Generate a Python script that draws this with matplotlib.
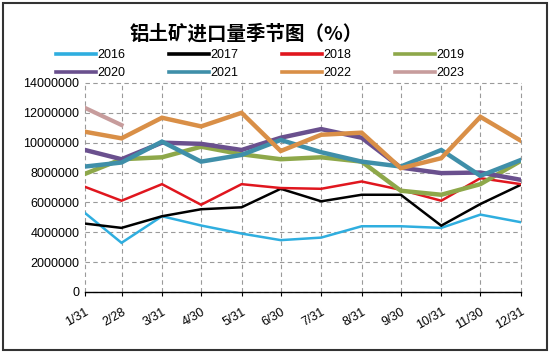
import matplotlib
matplotlib.use("Agg")
import matplotlib.pyplot as plt
from matplotlib.patches import Rectangle

plt.rcParams['font.family'] = ['Liberation Sans', 'Noto Sans CJK SC', 'DejaVu Sans']

dates = ["1/31", "2/28", "3/31", "4/30", "5/31", "6/30", "7/31", "8/31", "9/30", "10/31", "11/30", "12/31"]
day_of_year = [31, 59, 90, 120, 151, 181, 212, 243, 273, 304, 334, 365]

s2016 = [5290000, 3290000, 5070000, 4450000, 3910000, 3470000, 3640000, 4400000, 4400000, 4290000, 5180000, 4670000]
s2017 = [4580000, 4290000, 5070000, 5540000, 5670000, 6910000, 6070000, 6510000, 6510000, 4440000, 5890000, 7180000]
s2018 = [7040000, 6110000, 7220000, 5840000, 7220000, 6960000, 6910000, 7400000, 6840000, 6110000, 7620000, 7220000]
s2019 = [7910000, 8890000, 9020000, 9730000, 9220000, 8890000, 9020000, 8730000, 6780000, 6510000, 7220000, 8780000]
s2020 = [9510000, 8890000, 10000000, 9920000, 9510000, 10330000, 10910000, 10330000, 8330000, 7960000, 8000000, 7510000]
s2021 = [8400000, 8670000, 10070000, 8730000, 9180000, 10180000, 9360000, 8730000, 8400000, 9510000, 7780000, 8840000]
s2022 = [10730000, 10290000, 11670000, 11090000, 12000000, 9440000, 10530000, 10670000, 8290000, 8960000, 11730000, 10130000]
s2023 = [12330000, 11180000]

series = [
    ("2016", s2016, "#2FAEDF", 1.8),
    ("2017", s2017, "#000000", 1.8),
    ("2018", s2018, "#E0161E", 1.8),
    ("2019", s2019, "#8EA84A", 3.2),
    ("2020", s2020, "#6A508E", 3.2),
    ("2021", s2021, "#3F8FA9", 3.2),
    ("2022", s2022, "#D98F47", 3.2),
    ("2023", s2023, "#C79C9C", 3.0),
]

fig = plt.figure(figsize=(5.5, 3.53), dpi=100)
ax = fig.add_axes([0.1545, 0.173, 0.7925, 0.592])

handles = {}
for name, vals, color, lw in series:
    ln, = ax.plot(day_of_year[:len(vals)], vals, color=color, lw=lw, label=name, solid_joinstyle='miter')
    handles[name] = ln

ax.set_xlim(day_of_year[0], day_of_year[-1])
ax.set_ylim(0, 14000000)
ax.set_yticks(range(0, 14000001, 2000000))
ax.set_yticklabels([str(v) for v in range(0, 14000001, 2000000)], fontsize=9)
ax.set_xticks(day_of_year)
ax.set_xticklabels(dates, rotation=30, fontsize=9, ha='right', va='top', rotation_mode='anchor')
ax.tick_params(axis='x', direction='out', length=3, color='black', pad=7)
ax.tick_params(axis='y', length=0, pad=4)
for sp in ['top', 'right', 'left']:
    ax.spines[sp].set_visible(False)
ax.spines['bottom'].set_color('black')
ax.spines['bottom'].set_linewidth(1.0)
ax.grid(True, color='#9A9A9A', linestyle=(0, (4, 3)), linewidth=0.8)
ax.set_axisbelow(True)
for gl in ax.get_xgridlines() + ax.get_ygridlines():
    gl.set_clip_on(False)

fig.text(0.447, 0.905, "铝土矿进口量季节图（%）", fontsize=14, fontweight='heavy',
         ha='center', va='center', family=['Noto Sans CJK SC', 'DejaVu Sans'])

order = ["2016", "2020", "2017", "2021", "2018", "2022", "2019", "2023"]
leg = fig.legend([handles[k] for k in order], order, loc='upper left',
                 bbox_to_anchor=(0.093, 0.875), ncol=4, frameon=False,
                 fontsize=9, handlelength=3.2, handletextpad=0.1, columnspacing=3.5,
                 labelspacing=0.5, borderaxespad=0)
for l in leg.get_lines():
    l.set_linewidth(2.6)

fig.patches.append(Rectangle((0.006, 0.008), 0.988, 0.984, transform=fig.transFigure,
                             fill=False, edgecolor='#333333', linewidth=1.5))

fig.savefig("out.png", dpi=100)
